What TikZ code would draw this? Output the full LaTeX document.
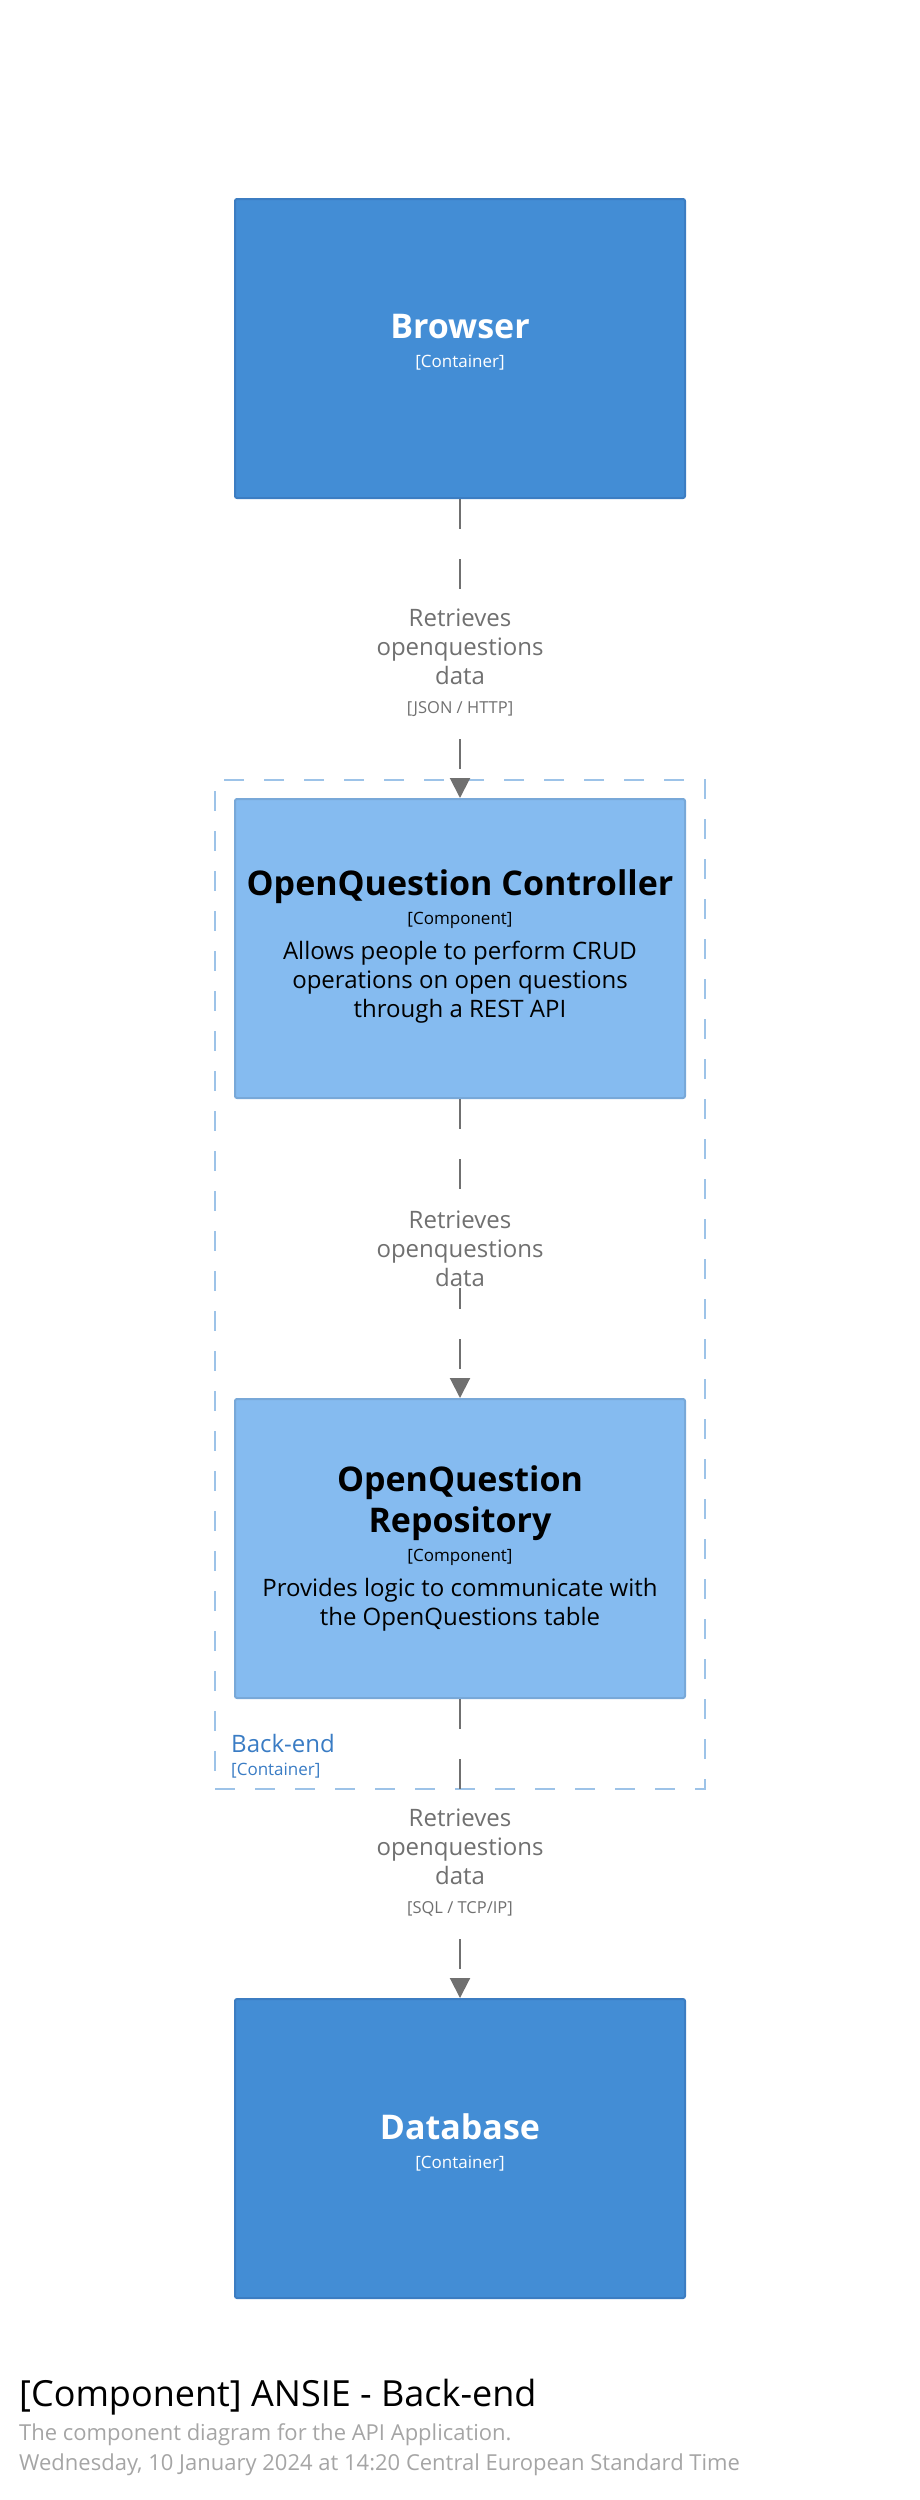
\documentclass[tikz,border=0pt]{standalone}
\usepackage{fontspec}
\setmainfont{Open Sans}
\usetikzlibrary{positioning,arrows.meta}
\definecolor{contfill}{HTML}{438DD5}
\definecolor{contline}{HTML}{3C7DC2}
\definecolor{compfill}{HTML}{85BBF0}
\definecolor{compline}{HTML}{78A8D8}
\definecolor{relgray}{HTML}{707070}
\definecolor{bndline}{HTML}{9DC3E8}
\definecolor{bndtext}{HTML}{3A7CC4}
\definecolor{metagray}{HTML}{A5A5A5}
\newcommand{\fsz}[2]{\fontsize{#1}{#2}\selectfont}

\begin{document}
\begin{tikzpicture}[x=1pt, y=-1pt,
    box/.style={draw, line width=2pt, rounded corners=2pt, minimum width=450pt, minimum height=299pt, align=center, inner sep=0pt, font=\fsz{24}{29}},
    container/.style={box, fill=contfill, draw=contline, text=white},
    component/.style={box, fill=compfill, draw=compline, text=black},
    rel/.style={draw=relgray, line width=2pt, dash pattern=on 30pt off 30pt, -{Triangle[width=20pt,length=20pt]}},
    lbl/.style={fill=white, text=relgray, align=center, inner sep=2pt, font=\fsz{24}{29}},
    meta/.style={anchor=west, inner sep=0pt},
    ]
\useasboundingbox (0,0) rectangle (920,2500);

% boundary
\node[draw=bndline, line width=2pt, dash pattern=on 20pt off 20pt, minimum width=490pt, minimum height=1009pt, inner sep=0pt] (backend) at (460,1284.5) {};
\node[meta, text=bndtext, align=left, font=\fsz{24}{23}] (backendname) at ([shift={(17,-34)}]backend.south west)
    {Back-end\\{\fsz{17}{23}[Container]}};

% elements
\node[container] (browser) at (460,348.5)
    {{\fsz{34}{38}\bfseries Browser}\\{\fsz{17}{22}[Container]\rule[-15pt]{0pt}{0pt}}};
\node[component] (controller) at (460,948.5)
    {{\fsz{34}{38}\bfseries OpenQuestion Controller}\\{\fsz{17}{22}[Component]}\\[6pt]
     Allows people to perform CRUD\\operations on open questions\\through a REST API\rule[-9pt]{0pt}{0pt}};
\node[component] (repository) at (460,1548.5)
    {{\fsz{34}{38}\bfseries OpenQuestion}\\[6pt]{\fsz{34}{38}\bfseries Repository}\\{\fsz{17}{22}[Component]}\\[6pt]
     Provides logic to communicate with\\the OpenQuestions table};
\node[container] (database) at (460,2148.5)
    {{\fsz{34}{38}\bfseries Database}\\{\fsz{17}{22}[Container]\rule[-15pt]{0pt}{0pt}}};

% relationships
\draw[rel] (browser) -- node[lbl, yshift=-14pt] (rel1)
    {Retrieves\\openquestions\\data\\{\fsz{16.5}{20}[JSON / HTTP]}} (controller);
\draw[rel] (controller) -- node[lbl] (rel2)
    {Retrieves\\openquestions\\data} (repository);
\draw[rel] (repository) -- node[lbl, yshift=-14pt] (rel3)
    {Retrieves\\openquestions\\data\\{\fsz{16.5}{20}[SQL / TCP/IP]}} (database);

% title
\node[meta, font=\fsz{36}{40}] (title) at (19,2397) {[Component] ANSIE - Back-end};
\node[meta, text=metagray, font=\fsz{22}{24}] (subtitle) at (19,2435) {The component diagram for the API Application.};
\node[meta, text=metagray, font=\fsz{22}{24}] (stamp) at (19,2465) {Wednesday, 10 January 2024 at 14:20 Central European Standard Time};
\end{tikzpicture}
\end{document}
